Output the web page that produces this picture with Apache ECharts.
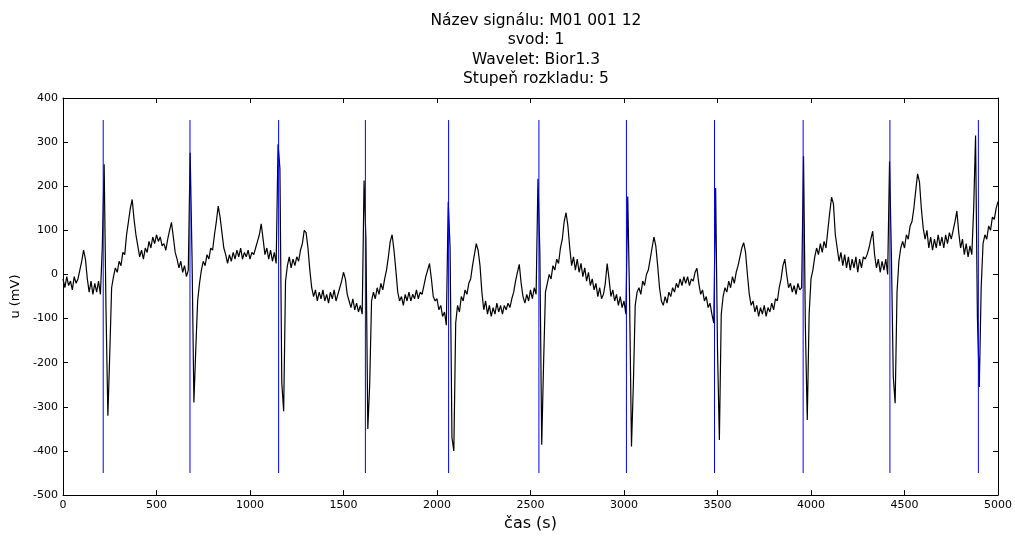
<!DOCTYPE html>
<html>
<head>
<meta charset="utf-8">
<script src="https://cdn.jsdelivr.net/npm/echarts@6/dist/echarts.min.js"></script>
<style>
  html, body { margin: 0; padding: 0; background: #fff; }
  #chart { width: 1015px; height: 537px; }
</style>
</head>
<body>
<div id="chart"></div>
<script>
// ---- data ----
const titleLines = ['Název signálu: M01 001 12', 'svod: 1', 'Wavelet: Bior1.3', 'Stupeň rozkladu: 5'];
const xLabel = 'čas (s)';
const yLabel = 'u (mV)';
const sampleStep = 10; // one reading every 10 s along the time axis, starting at 0
// ECG signal (mV), one value per sample
const ecgMv = [
  -10, -30, -5, -25, -15, -35, -5, -20, -10, 10,
  30, 55, 35, -10, -40, -15, -45, -20, -40, -15,
  -45, 60, 250, -80, -320, -180, -30, -5, 15, 5,
  30, 20, 50, 45, 90, 120, 150, 170, 125, 90,
  65, 40, 55, 35, 60, 50, 75, 60, 85, 70,
  90, 75, 85, 65, 70, 55, 80, 100, 118, 85,
  50, 35, 15, 30, 5, 20, -5, 10, 276, 40,
  -290, -170, -60, -20, 10, 30, 20, 45, 35, 60,
  55, 90, 120, 155, 130, 95, 60, 45, 25, 45,
  30, 50, 35, 55, 40, 60, 35, 50, 40, 55,
  35, 50, 45, 60, 75, 90, 115, 80, 45, 60,
  35, 55, 30, 50, 25, 295, 240, -245, -310, -15,
  20, 40, 15, 35, 20, 40, 30, 55, 70, 100,
  95, 60, 10, -30, -50, -35, -60, -40, -55, -35,
  -60, -45, -65, -40, -55, -35, -60, -45, -30, -15,
  5, -10, -45, -60, -75, -55, -80, -65, -85, -70,
  -90, 213, 80, -350, -250, -60, -40, -55, -30, -45,
  -20, -35, -10, 10, 40, 75, 90, 55, 10, -40,
  -60, -50, -70, -45, -60, -40, -60, -45, -55, -35,
  -55, -40, -45, -25, -5, 10, 25, -10, -50, -60,
  -55, -80, -70, -95, -85, -115, 165, 60, -370, -400,
  -110, -70, -85, -50, -60, -35, -45, -20, -10, 20,
  45, 70, 55, 20, -40, -80, -60, -90, -70, -95,
  -75, -90, -65, -85, -70, -90, -70, -80, -65, -75,
  -55, -40, -15, 5, 23, -20, -50, -65, -45, -60,
  -35, -55, -30, -45, 217, 50, -386, -200, -40, -20,
  0, -10, 20, 10, 35, 25, 60, 80, 120, 140,
  110, 60, 20, 40, 10, 35, 5, 25, -5, 15,
  -15, 5, -25, -10, -35, -20, -50, -30, -55, -45,
  -20, 25, -10, -50, -35, -60, -45, -70, -50, -75,
  -60, -90, 177, -60, -390, -250, -70, -40, -30, -45,
  -15, -25, 0, 10, 35, 60, 85, 65, 20, -30,
  -60, -70, -50, -65, -40, -50, -30, -40, -20, -30,
  -10, -25, -5, -20, -5, -25, -10, -15, 5, 14,
  -20, -45, -35, -60, -50, -75, -65, -90, -110, 196,
  -170, -375, -90, -50, -30, -40, -15, -30, -5, -20,
  5, 20, 40, 60, 72, 50, 0, -45, -70, -60,
  -85, -70, -95, -75, -90, -70, -95, -75, -85, -65,
  -80, -55, -60, -30, -10, 20, 35, 0, -30, -20,
  -40, -25, -45, -20, -35, -30, 268, -120, -330, -90,
  -10, 10, 40, 60, 45, 70, 50, 75, 60, 100,
  140, 175, 160, 90, 60, 30, 50, 20, 45, 15,
  40, 10, 35, 15, 40, 5, 35, 15, 40, 35,
  45, 60, 80, 98, 45, 15, 35, 5, 30, 10,
  35, 0, 256, 40, -232, -292, -40, 30, 60, 75,
  60, 90, 80, 110, 120, 150, 190, 228, 210, 150,
  105, 80, 100, 60, 85, 55, 80, 60, 90, 65,
  85, 60, 90, 70, 95, 80, 100, 120, 144, 95,
  60, 80, 45, 70, 40, 65, 45, 150, 315, -100,
  -255, -30, 70, 90, 80, 110, 100, 130, 125, 150,
  165
];
// detected R-peak marker positions (s) and their vertical extent (mV)
const rPeakTimes = [215, 679, 1153, 1617, 2062, 2545, 3013, 3484, 3958, 4422, 4895];
const markerRange = [-450, 350];
// axes
const xTicks = { min: 0, max: 5000, interval: 500 };
const yTicks = { min: -500, max: 400, interval: 100 };

// ---- chart ----
const FONT = 'DejaVu Sans';
const chart = echarts.init(document.getElementById('chart'), null, { renderer: 'canvas' });

const ecgData = ecgMv.map((v, i) => [i * sampleStep, v]);

const series = [{
  type: 'line',
  data: ecgData,
  showSymbol: false,
  symbol: 'none',
  lineStyle: { color: '#000000', width: 1.2 },
  animation: false,
  z: 2
}];
rPeakTimes.forEach(t => {
  series.push({
    type: 'line',
    data: [[t, markerRange[0]], [t, markerRange[1]]],
    showSymbol: false,
    symbol: 'none',
    lineStyle: { color: '#0000ff', width: 1 },
    animation: false,
    z: 3
  });
});

const tickStyle = { inside: true, length: 5, lineStyle: { color: '#000', width: 1 } };
const lineStyle = { show: true, onZero: false, lineStyle: { color: '#000', width: 1 } };
const plain = v => String(v);

chart.setOption({
  animation: false,
  backgroundColor: '#ffffff',
  textStyle: { fontFamily: FONT },
  title: {
    text: titleLines.join('\n'),
    left: 531,
    top: 6,
    textAlign: 'center',
    textStyle: { fontFamily: FONT, fontSize: 15.5, fontWeight: 'normal', color: '#000', lineHeight: 19.5 }
  },
  grid: { left: 63, right: 15, top: 98, bottom: 40, containLabel: false },
  xAxis: [{
    type: 'value', position: 'bottom',
    min: xTicks.min, max: xTicks.max, interval: xTicks.interval,
    axisLine: lineStyle, axisTick: tickStyle, splitLine: { show: false },
    axisLabel: { color: '#000', fontSize: 11, fontFamily: FONT, margin: 5, formatter: plain },
    name: xLabel, nameLocation: 'middle', nameGap: 20,
    nameTextStyle: { color: '#000', fontSize: 16, fontFamily: FONT }
  }, {
    type: 'value', position: 'top',
    min: xTicks.min, max: xTicks.max, interval: xTicks.interval,
    axisLine: lineStyle, axisTick: tickStyle, splitLine: { show: false },
    axisLabel: { show: false }
  }],
  yAxis: [{
    type: 'value', position: 'left',
    min: yTicks.min, max: yTicks.max, interval: yTicks.interval,
    axisLine: lineStyle, axisTick: tickStyle, splitLine: { show: false },
    axisLabel: { color: '#000', fontSize: 11, fontFamily: FONT, margin: 5, formatter: plain },
    name: yLabel, nameLocation: 'middle', nameGap: 36, nameRotate: 90,
    nameTextStyle: { color: '#000', fontSize: 13, fontFamily: FONT }
  }, {
    type: 'value', position: 'right',
    min: yTicks.min, max: yTicks.max, interval: yTicks.interval,
    axisLine: lineStyle, axisTick: tickStyle, splitLine: { show: false },
    axisLabel: { show: false }
  }],
  series: series
});
</script>
</body>
</html>
